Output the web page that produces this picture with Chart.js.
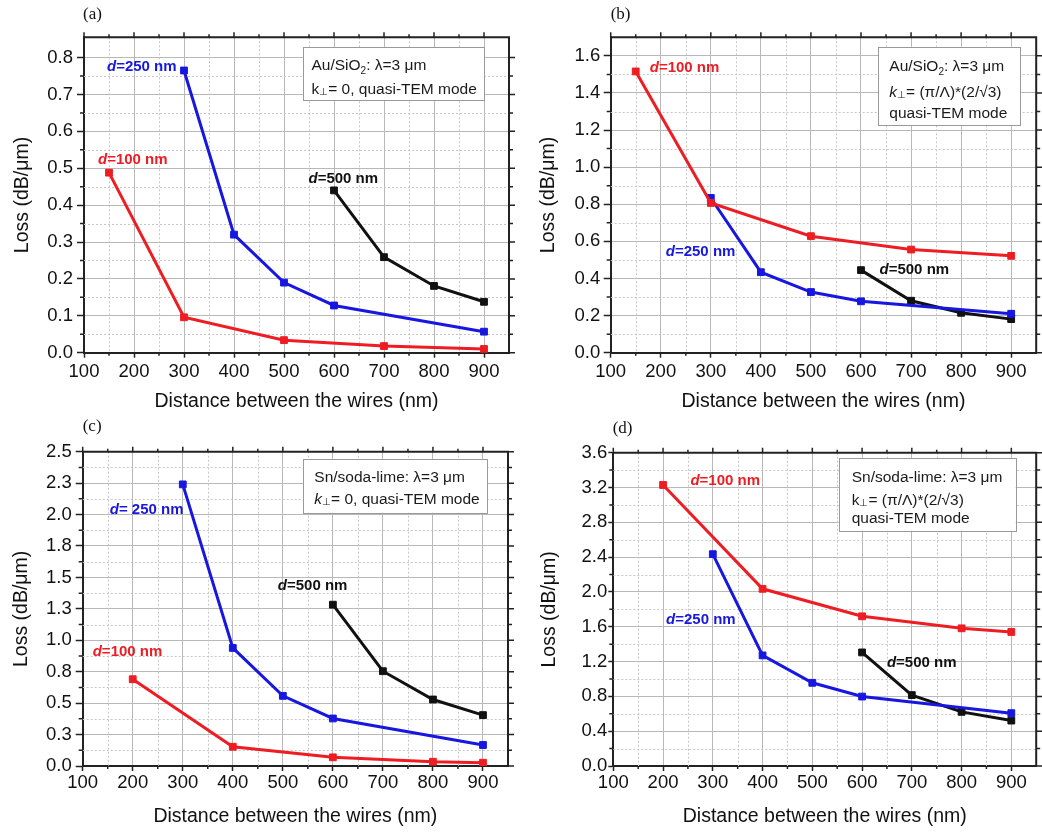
<!DOCTYPE html>
<html><head><meta charset="utf-8">
<script src="https://cdn.jsdelivr.net/npm/chart.js@4.4.1/dist/chart.umd.min.js"></script>
<style>
html,body{margin:0;padding:0;background:#fff;}
body{width:1042px;height:834px;position:relative;overflow:hidden;}
canvas{position:absolute;}
</style></head><body>
<canvas id="cA" width="520" height="414" style="left:0;top:0"></canvas>
<canvas id="cB" width="522" height="414" style="left:520px;top:0"></canvas>
<canvas id="cC" width="520" height="420" style="left:0;top:414px"></canvas>
<canvas id="cD" width="522" height="420" style="left:520px;top:414px"></canvas>
<script>
// ---------- data ----------
const distanceTicks = [100, 200, 300, 400, 500, 600, 700, 800, 900];
const distanceMinor = [150, 250, 350, 450, 550, 650, 750, 850];

// (a) Au/SiO2, k=0
const a_d100_dist = [150, 300, 500, 700, 900];
const a_d100_loss = [0.488, 0.096, 0.034, 0.018, 0.010];
const a_d250_dist = [300, 400, 500, 600, 900];
const a_d250_loss = [0.765, 0.320, 0.190, 0.128, 0.057];
const a_d500_dist = [600, 700, 800, 900];
const a_d500_loss = [0.440, 0.259, 0.181, 0.138];
const a_yTicks = [0.0, 0.1, 0.2, 0.3, 0.4, 0.5, 0.6, 0.7, 0.8];
const a_yLabels = ['0.0', '0.1', '0.2', '0.3', '0.4', '0.5', '0.6', '0.7', '0.8'];
const a_yMinor = [0.05, 0.15, 0.25, 0.35, 0.45, 0.55, 0.65, 0.75];

// (b) Au/SiO2, k=(pi/L)*(2/sqrt3)
const b_d100_dist = [150, 300, 500, 700, 900];
const b_d100_loss = [1.516, 0.807, 0.628, 0.556, 0.522];
const b_d250_dist = [300, 400, 500, 600, 900];
const b_d250_loss = [0.834, 0.434, 0.327, 0.277, 0.210];
const b_d500_dist = [600, 700, 800, 900];
const b_d500_loss = [0.445, 0.280, 0.215, 0.181];
const b_yTicks = [0.0, 0.2, 0.4, 0.6, 0.8, 1.0, 1.2, 1.4, 1.6];
const b_yLabels = ['0.0', '0.2', '0.4', '0.6', '0.8', '1.0', '1.2', '1.4', '1.6'];
const b_yMinor = [0.1, 0.3, 0.5, 0.7, 0.9, 1.1, 1.3, 1.5];

// (c) Sn/soda-lime, k=0
const c_d100_dist = [200, 400, 600, 800, 900];
const c_d100_loss = [0.690, 0.153, 0.069, 0.034, 0.026];
const c_d250_dist = [300, 400, 500, 600, 900];
const c_d250_loss = [2.240, 0.939, 0.558, 0.378, 0.167];
const c_d500_dist = [600, 700, 800, 900];
const c_d500_loss = [1.283, 0.754, 0.529, 0.405];
const c_yTicks = [0.0, 0.25, 0.5, 0.75, 1.0, 1.25, 1.5, 1.75, 2.0, 2.25, 2.5];
const c_yLabels = ['0.0', '0.3', '0.5', '0.8', '1.0', '1.3', '1.5', '1.8', '2.0', '2.3', '2.5'];
const c_yMinor = [0.125, 0.375, 0.625, 0.875, 1.125, 1.375, 1.625, 1.875, 2.125, 2.375];

// (d) Sn/soda-lime, k=(pi/L)*(2/sqrt3)
const d_d100_dist = [200, 400, 600, 800, 900];
const d_d100_loss = [3.229, 2.036, 1.720, 1.582, 1.540];
const d_d250_dist = [300, 400, 500, 600, 900];
const d_d250_loss = [2.434, 1.271, 0.956, 0.798, 0.607];
const d_d500_dist = [600, 700, 800, 900];
const d_d500_loss = [1.305, 0.815, 0.622, 0.522];
const d_yTicks = [0.0, 0.4, 0.8, 1.2, 1.6, 2.0, 2.4, 2.8, 3.2, 3.6];
const d_yLabels = ['0.0', '0.4', '0.8', '1.2', '1.6', '2.0', '2.4', '2.8', '3.2', '3.6'];
const d_yMinor = [0.2, 0.6, 1.0, 1.4, 1.8, 2.2, 2.6, 3.0, 3.4];

// ---------- styling ----------
const SANS = '"Liberation Sans", Arial, sans-serif';
const SERIF = '"Liberation Serif", "Times New Roman", serif';
const RED = '#ee1d23', BLUE = '#1717e0', BLACK = '#111111';
const LEG = 15.5;

function runsDraw(ctx, x, y, runs, color) {
  let cx = x;
  for (const r of runs) {
    const size = r.size || LEG;
    ctx.font = (r.italic ? 'italic ' : '') + (r.bold ? 'bold ' : '') + size + 'px ' + SANS;
    ctx.fillStyle = color;
    ctx.fillText(r.t, cx, y + (r.dy || 0));
    cx += ctx.measureText(r.t).width;
  }
}

function makeDecor(P) {
  return {
    id: 'decor',
    beforeDatasetsDraw(chart) {
      const { ctx, chartArea: a, scales: { x, y } } = chart;
      ctx.save();
      // minor dotted grid
      ctx.strokeStyle = '#c6c6c6'; ctx.lineWidth = 1; ctx.setLineDash([2, 2]);
      ctx.beginPath();
      distanceMinor.forEach(v => { const px = Math.round(x.getPixelForValue(v)) + 0.5; ctx.moveTo(px, a.top); ctx.lineTo(px, a.bottom); });
      P.yMinor.forEach(v => { const py = Math.round(y.getPixelForValue(v)) + 0.5; ctx.moveTo(a.left, py); ctx.lineTo(a.right, py); });
      ctx.stroke();
      ctx.setLineDash([]);
      // frame top/right
      ctx.strokeStyle = '#222'; ctx.lineWidth = 2;
      ctx.beginPath(); ctx.moveTo(a.left, a.top); ctx.lineTo(a.right, a.top); ctx.lineTo(a.right, a.bottom); ctx.stroke();
      // ticks
      ctx.lineWidth = 1.5; ctx.beginPath();
      distanceTicks.forEach(v => { const px = x.getPixelForValue(v); ctx.moveTo(px, a.top); ctx.lineTo(px, a.top - 5); });
      distanceMinor.forEach(v => { const px = x.getPixelForValue(v);
        ctx.moveTo(px, a.top); ctx.lineTo(px, a.top - 3); ctx.moveTo(px, a.bottom); ctx.lineTo(px, a.bottom + 3); });
      P.yTicks.forEach(v => { const py = y.getPixelForValue(v); ctx.moveTo(a.right, py); ctx.lineTo(a.right + 6, py); });
      P.yMinor.forEach(v => { const py = y.getPixelForValue(v);
        ctx.moveTo(a.right, py); ctx.lineTo(a.right + 4, py); ctx.moveTo(a.left, py); ctx.lineTo(a.left - 4, py); });
      ctx.stroke();
      ctx.restore();
    },
    afterDatasetsDraw(chart) {
      const { ctx, scales: { x, y } } = chart;
      ctx.save();
      // info box
      const b = P.box;
      ctx.fillStyle = '#fff'; ctx.fillRect(b.x, b.y, b.w, b.h);
      ctx.strokeStyle = '#9a9a9a'; ctx.lineWidth = 1;
      ctx.strokeRect(Math.round(b.x) + 0.5, Math.round(b.y) + 0.5, Math.round(b.w), Math.round(b.h));
      ctx.textBaseline = 'alphabetic'; ctx.textAlign = 'left';
      P.boxLines.forEach((runs, i) => runsDraw(ctx, b.tx, b.base[i], runs, '#1a1a1a'));
      // series annotations
      ctx.textBaseline = 'middle';
      P.notes.forEach(n => {
        runsDraw(ctx, x.getPixelForValue(n.x), y.getPixelForValue(n.y),
          [{ t: 'd', bold: true, italic: true, size: 15 }, { t: n.t, bold: true, size: 15 }], n.color);
      });
      // panel label
      ctx.font = '17px ' + SERIF; ctx.fillStyle = '#111'; ctx.textBaseline = 'middle';
      ctx.fillText(P.label.t, P.label.x, P.label.y);
      ctx.restore();
    }
  };
}

function panel(id, P) {
  const cv = document.getElementById(id);
  const W = cv.width, H = cv.height, A = P.area;
  return new Chart(cv, {
    type: 'line',
    data: {
      datasets: P.series.map(s => ({
        data: s.x.map((v, i) => ({ x: v, y: s.y[i] })),
        borderColor: s.color, backgroundColor: s.color, borderWidth: 3,
        pointStyle: 'rect', pointRadius: 4.8, pointBorderWidth: 1,
        pointBackgroundColor: s.color, pointBorderColor: s.color,
        tension: 0, fill: false
      }))
    },
    options: {
      responsive: false, animation: false, devicePixelRatio: 1,
      layout: { padding: { left: 0, top: A.t, right: W - A.r, bottom: 0 } },
      plugins: { legend: { display: false }, tooltip: { enabled: false } },
      scales: {
        x: {
          type: 'linear', min: 100, max: 950,
          afterBuildTicks: s => { s.ticks = distanceTicks.map(v => ({ value: v })); },
          afterFit: s => { s.height = H - A.b; },
          grid: { color: '#b8b8b8', lineWidth: 1, tickLength: 5, tickColor: '#222', tickWidth: 1.5 },
          border: { color: '#222', width: 2 },
          ticks: { font: { family: SANS, size: 18.5 }, color: '#111', padding: P.xTickPad, maxRotation: 0, autoSkip: false,
                   callback: (v, i) => String(distanceTicks[i]) },
          title: { display: true, text: 'Distance between the wires (nm)', font: { family: SANS, size: 19.5 }, color: '#111',
                   padding: { top: 0, bottom: P.xTitlePad } }
        },
        y: {
          type: 'linear', min: 0, max: P.yMax,
          afterBuildTicks: s => { s.ticks = P.yTicks.map(v => ({ value: v })); },
          afterFit: s => { s.width = A.l; },
          grid: { color: '#b8b8b8', lineWidth: 1, tickLength: P.yTickLen, tickColor: '#222', tickWidth: 1.5 },
          border: { color: '#222', width: 2 },
          ticks: { font: { family: SANS, size: 18.5 }, color: '#111', padding: P.yTickPad, autoSkip: false,
                   callback: (v, i) => P.yLabels[i] },
          title: { display: true, text: 'Loss (dB/μm)', font: { family: SANS, size: 19.5 }, color: '#111',
                   padding: { top: P.yTitlePad, bottom: 0 } }
        }
      }
    },
    plugins: [makeDecor(P)]
  });
}

const lineAu = [{ t: 'Au/SiO' }, { t: '2', size: 10, dy: 4 }, { t: ': λ=3 μm' }];
const lineSn = [{ t: 'Sn/soda-lime: λ=3 μm' }];
const lineQ = [{ t: 'quasi-TEM mode' }];

panel('cA', {
  area: { l: 84, t: 37.3, r: 509, b: 352.7 }, yMax: 0.855,
  yTicks: a_yTicks, yLabels: a_yLabels, yMinor: a_yMinor,
  xTickPad: 3, yTickLen: 7, yTickPad: 4, yTitlePad: 11, xTitlePad: 0.6,
  series: [
    { x: a_d100_dist, y: a_d100_loss, color: RED },
    { x: a_d250_dist, y: a_d250_loss, color: BLUE },
    { x: a_d500_dist, y: a_d500_loss, color: BLACK }
  ],
  notes: [
    { x: 146, y: 0.774, t: '=250 nm', color: BLUE },
    { x: 128, y: 0.524, t: '=100 nm', color: RED },
    { x: 549, y: 0.472, t: '=500 nm', color: BLACK }
  ],
  box: { x: 303, y: 47, w: 181, h: 53, tx: 311.5, base: [69.5, 93.5] },
  boxLines: [lineAu, [{ t: 'k' }, { t: '⊥', size: 10, dy: 1 }, { t: '= 0, quasi-TEM mode' }]],
  label: { t: '(a)', x: 83, y: 15 }
});

panel('cB', {
  area: { l: 90.7, t: 37.3, r: 518, b: 352.7 }, yMax: 1.7,
  yTicks: b_yTicks, yLabels: b_yLabels, yMinor: b_yMinor,
  xTickPad: 3, yTickLen: 7, yTickPad: 3.5, yTitlePad: 16.8, xTitlePad: 0.6,
  series: [
    { x: b_d100_dist, y: b_d100_loss, color: RED },
    { x: b_d250_dist, y: b_d250_loss, color: BLUE },
    { x: b_d500_dist, y: b_d500_loss, color: BLACK }
  ],
  notes: [
    { x: 178, y: 1.536, t: '=100 nm', color: RED },
    { x: 210, y: 0.541, t: '=250 nm', color: BLUE },
    { x: 637, y: 0.445, t: '=500 nm', color: BLACK }
  ],
  box: { x: 358, y: 46.7, w: 142, h: 78.3, tx: 369.3, base: [71, 96.5, 117.5] },
  boxLines: [lineAu, [{ t: 'k', italic: true }, { t: '⊥', size: 10, dy: 1 }, { t: '= (π/Λ)*(2/√3)' }], lineQ],
  label: { t: '(b)', x: 90.7, y: 15 }
});

panel('cC', {
  area: { l: 82.7, t: 37.7, r: 508, b: 352 }, yMax: 2.5,
  yTicks: c_yTicks, yLabels: c_yLabels, yMinor: c_yMinor,
  xTickPad: 1, yTickLen: 7, yTickPad: 4, yTitlePad: 10, xTitlePad: 5.6,
  series: [
    { x: c_d100_dist, y: c_d100_loss, color: RED },
    { x: c_d250_dist, y: c_d250_loss, color: BLUE },
    { x: c_d500_dist, y: c_d500_loss, color: BLACK }
  ],
  notes: [
    { x: 154, y: 2.04, t: '= 250 nm', color: BLUE },
    { x: 490, y: 1.43, t: '=500 nm', color: BLACK },
    { x: 120, y: 0.907, t: '=100 nm', color: RED }
  ],
  box: { x: 303, y: 45, w: 184, h: 53.7, tx: 314.3, base: [68, 89.5] },
  boxLines: [lineSn, [{ t: 'k', italic: true }, { t: '⊥', size: 10, dy: 1 }, { t: '= 0, quasi-TEM mode' }]],
  label: { t: '(c)', x: 82.7, y: 12.7 }
});

panel('cD', {
  area: { l: 93.3, t: 38.7, r: 518, b: 352 }, yMax: 3.6,
  yTicks: d_yTicks, yLabels: d_yLabels, yMinor: d_yMinor,
  xTickPad: 1, yTickLen: 5, yTickPad: 1, yTitlePad: 17.8, xTitlePad: 5.6,
  series: [
    { x: d_d100_dist, y: d_d100_loss, color: RED },
    { x: d_d250_dist, y: d_d250_loss, color: BLUE },
    { x: d_d500_dist, y: d_d500_loss, color: BLACK }
  ],
  notes: [
    { x: 255, y: 3.28, t: '=100 nm', color: RED },
    { x: 206, y: 1.678, t: '=250 nm', color: BLUE },
    { x: 650, y: 1.184, t: '=500 nm', color: BLACK }
  ],
  box: { x: 319, y: 44, w: 176.7, h: 72.7, tx: 331.7, base: [68, 90.5, 108.5] },
  boxLines: [lineSn, [{ t: 'k' }, { t: '⊥', size: 10, dy: 1 }, { t: '= (π/Λ)*(2/√3)' }], lineQ],
  label: { t: '(d)', x: 92.7, y: 15 }
});
</script>
</body></html>
